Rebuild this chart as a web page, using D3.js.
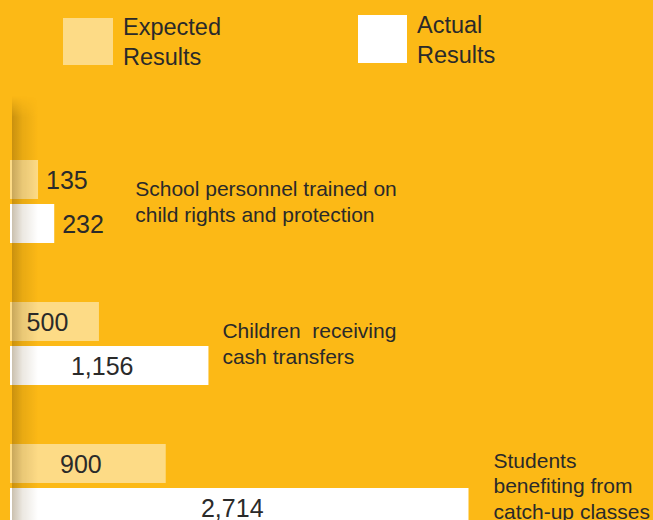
<!DOCTYPE html>
<html>
<head>
<meta charset="utf-8">
<script src="https://cdn.jsdelivr.net/npm/d3@7/dist/d3.min.js"></script>
<style>
  html, body { margin: 0; padding: 0; background: #FCB916; }
  svg { display: block; }
  text { font-family: "Liberation Sans", Arial, Helvetica, sans-serif; fill: #2a2a2a; }
</style>
</head>
<body>
<svg id="chart" width="653" height="520"></svg>
<script>
// ---- data ----
const categories = [
  ["School personnel trained on", "child rights and protection"],
  ["Children  receiving", "cash transfers"],
  ["Students", "benefiting from", "catch-up classes"]
];
const expectedValues = [135, 500, 900];
const actualValues = [232, 1156, 2714];
const seriesNames = [["Expected", "Results"], ["Actual", "Results"]];

// ---- layout ----
const W = 653, H = 520;
const bg = "#FCB916";
const expColor = "#FDDB86";
const actColor = "#FFFFFF";
const barLeft = 10;
const barH = 39, barGap = 5;
const labelGap = [81, 14, 25];

const svg = d3.select("#chart");
svg.append("rect").attr("width", W).attr("height", H).attr("fill", bg);

const defs = svg.append("defs");
const hg = defs.append("linearGradient").attr("id", "shadowH")
  .attr("x1", 0).attr("x2", 1).attr("y1", 0).attr("y2", 0);
hg.append("stop").attr("offset", "0%").attr("stop-color", "#5a3a00").attr("stop-opacity", 0.32);
hg.append("stop").attr("offset", "40%").attr("stop-color", "#5a3a00").attr("stop-opacity", 0.12);
hg.append("stop").attr("offset", "100%").attr("stop-color", "#5a3a00").attr("stop-opacity", 0);
const vg = defs.append("linearGradient").attr("id", "fadeV")
  .attr("x1", 0).attr("x2", 0).attr("y1", 0).attr("y2", 1);
vg.append("stop").attr("offset", "0%").attr("stop-color", "#fff").attr("stop-opacity", 0);
vg.append("stop").attr("offset", "5%").attr("stop-color", "#fff").attr("stop-opacity", 1);
vg.append("stop").attr("offset", "100%").attr("stop-color", "#fff").attr("stop-opacity", 1);
defs.append("mask").attr("id", "shadowMask")
  .attr("maskUnits", "userSpaceOnUse")
  .append("rect").attr("x", 0).attr("y", 96).attr("width", 60).attr("height", 424)
  .attr("fill", "url(#fadeV)");

// scales
const x = d3.scaleLinear().domain([0, 2714]).range([15.5, 468.5]);
const y = d3.scaleBand().domain(d3.range(categories.length)).range([160, 160 + 142 * 3]).padding(0);
const inner = d3.scaleBand().domain(["exp", "act"]).range([0, barH * 2 + barGap]).paddingInner(barGap / (barH + barGap / 2) / 2);

// legend
const legend = [
  { color: expColor, names: seriesNames[0], sx: 63, sy: 18, sw: 50, sh: 47, tx: 123, ty: 35 },
  { color: actColor, names: seriesNames[1], sx: 358, sy: 15, sw: 49, sh: 48, tx: 417, ty: 33 }
];
legend.forEach(l => {
  svg.append("rect").attr("x", l.sx).attr("y", l.sy).attr("width", l.sw).attr("height", l.sh).attr("fill", l.color);
  const t = svg.append("text").attr("x", l.tx).attr("y", l.ty).attr("font-size", "23.5px");
  l.names.forEach((n, i) => t.append("tspan").attr("x", l.tx).attr("dy", i === 0 ? 0 : 29.5).text(n));
});

// bars
const g = svg.append("g");
categories.forEach((cat, i) => {
  const top = y(i);
  const rows = [
    { key: "exp", v: expectedValues[i], color: expColor },
    { key: "act", v: actualValues[i], color: actColor }
  ];
  rows.forEach(r => {
    const by = top + (r.key === "exp" ? 0 : barH + barGap);
    const x1 = x(r.v);
    g.append("rect").attr("x", barLeft).attr("y", by).attr("width", x1 - barLeft).attr("height", barH).attr("fill", r.color);
    const inside = r.v >= 400;
    g.append("text")
      .attr("x", inside ? (barLeft + x1) / 2 - 7 : x1 + 8)
      .attr("y", by + barH / 2 + 9)
      .attr("text-anchor", inside ? "middle" : "start")
      .attr("font-size", "25px")
      .text(d3.format(",")(r.v));
  });
  // category label
  const center = top + barH + barGap / 2;
  const lx = x(Math.max(expectedValues[i], actualValues[i])) + labelGap[i];
  const n = cat.length, lh = 25.5;
  cat.forEach((line, j) => {
    g.append("text").attr("x", lx)
      .attr("y", center + (j - (n - 1) / 2) * lh + 7.5)
      .attr("font-size", "21px")
      .attr("xml:space", "preserve")
      .style("white-space", "pre")
      .text(line);
  });
});

// left shadow overlay
svg.append("rect").attr("x", 12).attr("y", 96).attr("width", 26).attr("height", 424)
  .attr("fill", "url(#shadowH)").attr("mask", "url(#shadowMask)");
</script>
</body>
</html>
